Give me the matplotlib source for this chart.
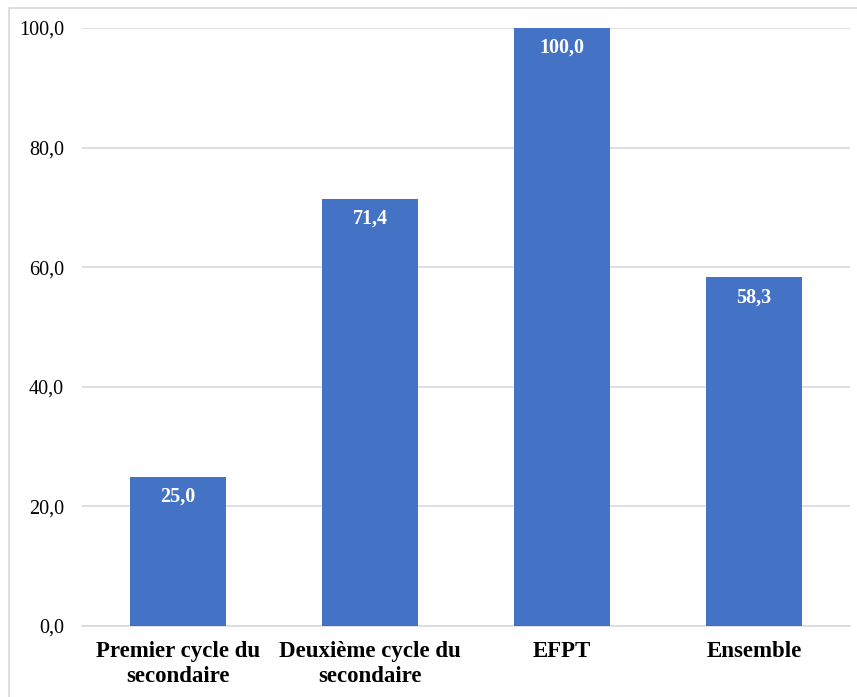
import matplotlib.pyplot as plt
from matplotlib.patches import Rectangle

categories = ["Premier cycle du\nsecondaire", "Deuxième cycle du\nsecondaire", "EFPT", "Ensemble"]
values = [25.0, 71.4, 100.0, 58.3]
yticks = [0, 20, 40, 60, 80, 100]

plt.rcParams['font.family'] = ['Liberation Serif', 'DejaVu Serif']

W, H = 857, 697
fig = plt.figure(figsize=(W / 100, H / 100), dpi=100)
# chart area border (light gray), like the Excel frame
fig.patches.append(Rectangle((9 / W, -0.01), 1.02, 1 - 8 / H + 0.01, transform=fig.transFigure,
                             fill=False, edgecolor='#D9D9D9', linewidth=1.2))

ax = fig.add_axes([82 / W, 1 - 626 / H, (850 - 82) / W, (626 - 28) / H])
x = range(len(categories))
bars = ax.bar(x, values, width=0.5, color='#4472C4', zorder=3)

for b, v in zip(bars, values):
    ax.text(b.get_x() + b.get_width() / 2, v - 3.3, f"{v:.1f}".replace('.', ','),
            ha='center', va='center', color='white', fontsize=14.5, fontweight='bold', zorder=4)

ax.set_xlim(-0.5, 3.5)
ax.set_ylim(0, 100)
ax.set_yticks(yticks)
ax.set_yticklabels([f"{t:.1f}".replace('.', ',') for t in yticks], fontsize=14.5)
ax.set_xticks(list(x))
ax.set_xticklabels(categories, fontsize=16.5, fontweight='bold', linespacing=1.25)
ax.tick_params(axis='both', length=0)
ax.tick_params(axis='y', pad=13)
ax.tick_params(axis='x', pad=11)
ax.grid(axis='y', color='#D9D9D9', linewidth=1.2, zorder=0)
for s in ['top', 'right', 'left']:
    ax.spines[s].set_visible(False)
ax.spines['bottom'].set_color('#D9D9D9')
ax.spines['bottom'].set_linewidth(1.2)

fig.savefig('out.png', dpi=100)
